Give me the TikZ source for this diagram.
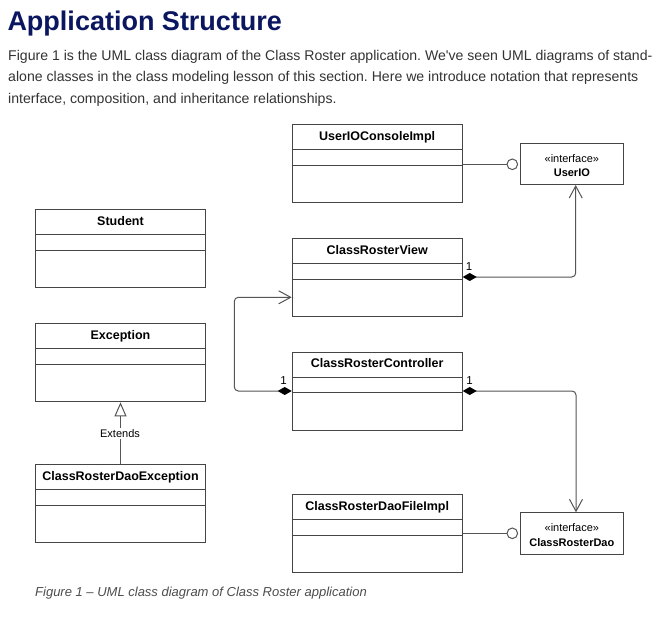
\documentclass[tikz,border=0pt]{standalone}
\usepackage{fontspec}
\setmainfont{Liberation Sans}
\newfontfamily\plainsans{Liberation Sans}
\usetikzlibrary{arrows.meta,calc}
\definecolor{titleblue}{HTML}{0B1660}
\definecolor{bodytext}{HTML}{333333}
\definecolor{boxline}{HTML}{454545}
\definecolor{connline}{HTML}{555555}
\definecolor{capgray}{HTML}{4D4D4D}
\newcommand\umlclass[4]{%
  \node[classbox] (#1) at (#2,#3) {};
  \draw[boxline, line width=1pt] ($(#1.north west)+(0,25.5)$) -- ($(#1.north east)+(0,25.5)$);
  \draw[boxline, line width=1pt] ($(#1.north west)+(0,41)$) -- ($(#1.north east)+(0,41)$);
  \node[ctitle] (#1-t) at ($(#1.north)+(0,16)$) {#4};
}
\newcommand\umliface[4]{%
  \node[ibox] (#1) at (#2,#3) {};
  \node[stereo] (#1-s) at ($(#1.north)+(0,19.3)$) {«interface»};
  \node[ititle] (#1-t) at ($(#1.north)+(0,34)$) {#4};
}
\frenchspacing
\begin{document}
\begin{tikzpicture}[x=1pt,y=-1pt,
  classbox/.style={draw=boxline, line width=1pt, fill=white, minimum width=170pt, minimum height=78pt, anchor=north west, inner sep=0pt},
  ibox/.style={draw=boxline, line width=1pt, fill=white, minimum width=102.7pt, minimum height=41.3pt, anchor=north west, inner sep=0pt},
  ctitle/.style={font=\fontsize{12.5}{14}\selectfont\bfseries, anchor=base, inner sep=0pt, text=black},
  stereo/.style={font=\fontsize{11}{13}\selectfont, anchor=base, inner sep=0pt, text=black},
  ititle/.style={font=\fontsize{11}{13}\selectfont\bfseries, anchor=base, inner sep=0pt, text=black},
  lolli/.style={circle, draw=connline, line width=1pt, fill=white, minimum size=10.6pt, inner sep=0pt},
  conn/.style={draw=connline, line width=1pt},
  comp/.style={conn, rounded corners=4pt, {Diamond[length=14pt,width=8pt,color=black]}-{Straight Barb[length=12pt,width=13pt]}},
  mult/.style={font=\fontsize{11.5}{13}\selectfont, anchor=base, inner sep=0pt, text=black},
  bodyline/.style={font=\plainsans\fontsize{14.1}{16}\selectfont, anchor=base west, inner sep=0pt, text=bodytext},
]
\useasboundingbox[fill=white] (0,0) rectangle (663,616);

% heading and text
\node[font=\fontsize{27}{30}\selectfont\bfseries, text=titleblue, anchor=base west, inner sep=0pt] (title) at (7.3,30.7) {Application Structure};
\node[bodyline] (l1) at (8,60.7) {Figure 1 is the UML class diagram of the Class Roster application. We've seen UML diagrams of stand-};
\node[bodyline] (l2) at (8,81.7) {alone classes in the class modeling lesson of this section. Here we introduce notation that represents};
\node[bodyline] (l3) at (8,103.3) {interface, composition, and inheritance relationships.};

% classes
\umlclass{uioc}{291.7}{124.3}{UserIOConsoleImpl}
\umlclass{view}{291.7}{238.3}{ClassRosterView}
\umlclass{ctrl}{291.7}{351.7}{ClassRosterController}
\umlclass{file}{291.7}{494}{ClassRosterDaoFileImpl}
\umlclass{student}{35}{209.3}{Student}
\umlclass{exc}{35}{323.3}{Exception}
\umlclass{daoexc}{35}{464.3}{ClassRosterDaoException}

% interfaces
\umliface{uio}{520}{142.7}{UserIO}
\umliface{dao}{520}{512.3}{ClassRosterDao}

% lollipops
\node[lolli] (uioL) at (512.3,164.3) {};
\node[lolli] (daoL) at (512.3,533.3) {};
\draw[conn] (uioc.east |- uioL) -- (uioL.west);
\draw[conn] (file.east |- daoL) -- (daoL.west);

% compositions
\draw[comp] ($(view.north east)+(0,38.7)$) -| ($(uio.south west)+(55.7,0)$);
\draw[comp] ($(ctrl.north west)+(0,39.3)$) -- ++(-57.4,0) |- ($(view.north west)+(0,59)$);
\draw[comp] ($(ctrl.north east)+(0,39.3)$) -| ($(dao.north west)+(56,0)$);

\node[mult] (m1) at (469,270) {1};
\node[mult] (m2) at (283.5,384) {1};
\node[mult] (m3) at (469.5,384) {1};

% inheritance
\draw[conn, -{Triangle[open,length=14pt,width=12pt]}] (daoexc.north) -- (exc.south);
\node[font=\fontsize{11}{13}\selectfont, anchor=base, fill=white, inner sep=1.5pt, text=black] (ext) at (120,437.5) {Extends};

% caption
\node[font=\fontsize{13}{15}\selectfont\itshape, text=capgray, anchor=base west, inner sep=0pt] (cap) at (35,596) {Figure 1 – UML class diagram of Class Roster application};
\end{tikzpicture}
\end{document}
